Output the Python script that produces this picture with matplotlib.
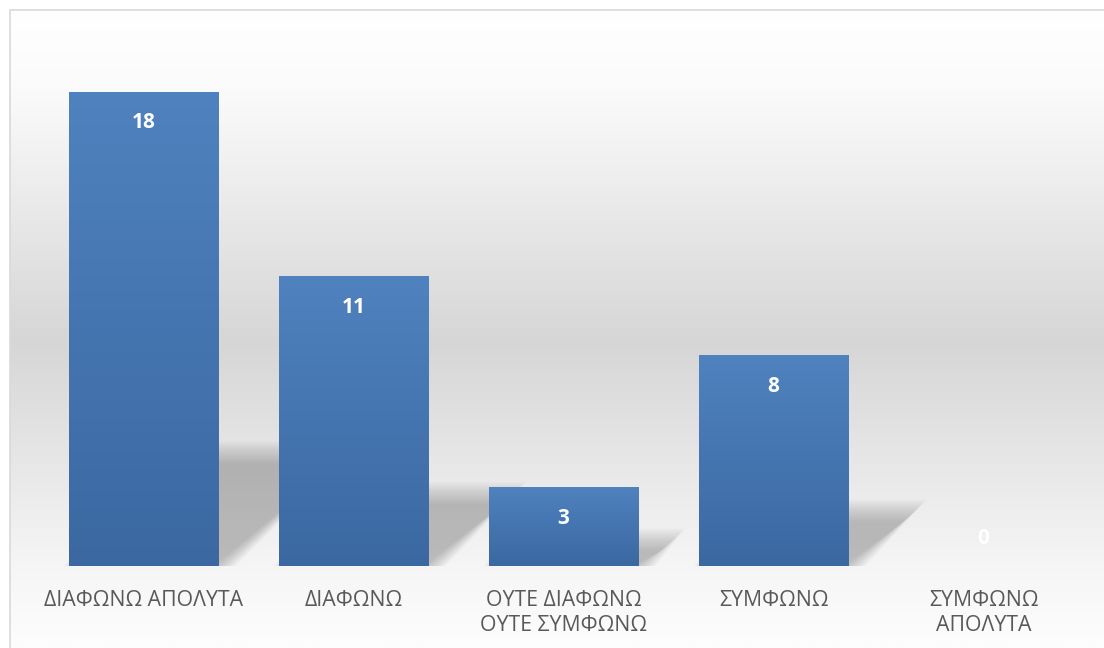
import numpy as np
import matplotlib
matplotlib.use("Agg")
import matplotlib.pyplot as plt
from matplotlib.colors import LinearSegmentedColormap
from matplotlib.patches import Polygon, Rectangle

categories = ["ΔΙΑΦΩΝΩ ΑΠΟΛΥΤΑ", "ΔΙΑΦΩΝΩ", "ΟΥΤΕ ΔΙΑΦΩΝΩ\nΟΥΤΕ ΣΥΜΦΩΝΩ",
              "ΣΥΜΦΩΝΩ", "ΣΥΜΦΩΝΩ\nΑΠΟΛΥΤΑ"]
values = [18, 11, 3, 8, 0]

plt.rcParams['font.family'] = ['Open Sans', 'DejaVu Sans']

W, H = 1104, 648
fig = plt.figure(figsize=(W / 100, H / 100), dpi=100)

# background panel with vertical grey gradient
bg = fig.add_axes([10 / W, 0, 1 - 10 / W, (H - 10) / H])
bg_cmap = LinearSegmentedColormap.from_list(
    "bg", [(0, "#FFFFFF"), (0.12, "#FBFBFB"), (0.52, "#D6D6D6"),
           (0.88, "#F6F6F6"), (1.0, "#FDFDFD")])
grad = np.linspace(0, 1, 256).reshape(-1, 1)
bg.imshow(grad, cmap=bg_cmap, aspect="auto", extent=[0, 1, 0, 1])
bg.set_axis_off()
fig.add_artist(Rectangle((10 / W, -0.01), 1, (H - 10) / H + 0.01,
                         transform=fig.transFigure, fill=False,
                         edgecolor="#D9D9D9", linewidth=1.2))

# main plot area
ax = fig.add_axes([38.5 / W, (H - 566) / H, 1050 / W, 527 / H])
ax.set_facecolor("none")
x = np.arange(len(categories))
width = 0.714
ymax = 20

px_x = 1050 / 5      # pixels per x unit
px_y = 527 / ymax    # pixels per y unit

# soft perspective shadows behind bars
shear = 1.1 * px_y / px_x
n_layers = 16
blur = 22
for xi, v in zip(x, values):
    if v <= 0:
        continue
    h = 0.22 * v + 0.35
    x0 = xi - width / 2 + 6 / px_x
    x1 = xi + width / 2 + 6 / px_x
    for k in range(n_layers):
        e = blur * (1 - 2 * k / (n_layers - 1)) / 2
        ex, ey = e / px_x, e / px_y
        pts = [(x0 - ex, 0), (x1 + ex, 0),
               (x1 + shear * h + ex, h + ey), (x0 + shear * h - ex, h + ey)]
        ax.add_patch(Polygon(pts, closed=True, facecolor="#707070",
                             edgecolor="none", alpha=0.5 / n_layers, zorder=1))

# bars with vertical gradient fill
bars = ax.bar(x, values, width=width, color="#4A7DBA", zorder=2)
bar_cmap = LinearSegmentedColormap.from_list("bar", ["#3B68A1", "#4F82BE"])
for rect, v in zip(bars, values):
    if v <= 0:
        continue
    x0 = rect.get_x()
    img = ax.imshow(np.linspace(0, 1, 128).reshape(-1, 1), cmap=bar_cmap,
                    origin="lower", aspect="auto",
                    extent=[x0, x0 + rect.get_width(), 0, v], zorder=3)
    img.set_clip_path(rect)

# value labels
for xi, v in zip(x, values):
    if v > 0:
        ax.annotate(str(v), (xi, v), xytext=(0, -22.5), textcoords="offset points",
                    ha="center", va="center", color="white", fontsize=15,
                    fontweight="bold", zorder=4)
    else:
        ax.annotate(str(v), (xi, 0), xytext=(0, 20), textcoords="offset points",
                    ha="center", va="center", color="white", fontsize=15,
                    fontweight="bold", zorder=4)

ax.set_xlim(-0.5, len(categories) - 0.5)
ax.set_ylim(0, ymax)
ax.set_xticks(x)
ax.set_xticklabels(categories, fontsize=15.3, color="#595959", linespacing=1.3)
ax.tick_params(axis="x", length=0, pad=17)
ax.set_yticks([])
for s in ax.spines.values():
    s.set_visible(False)

fig.savefig("out.png", dpi=100)
